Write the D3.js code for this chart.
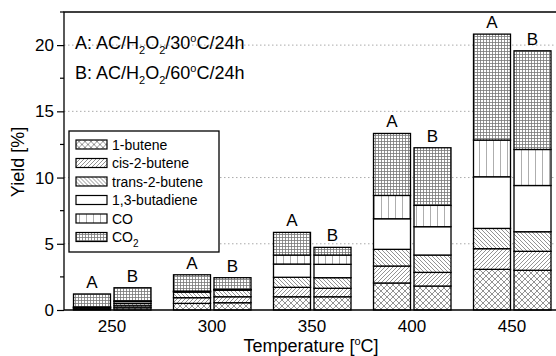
<!DOCTYPE html>
<html>
<head>
<meta charset="utf-8">
<script src="https://cdn.jsdelivr.net/npm/d3@7"></script>
<style>
  body { margin: 0; background: #fff; }
  svg { font-family: "Liberation Sans", Arial, sans-serif; }
</style>
</head>
<body>
<div id="chart"></div>
<script>
// temperatures and the two runs
const temps = [250, 300, 350, 400, 450]
const runs = ['A', 'B']
const species = ['1-butene', 'cis-2-butene', 'trans-2-butene', '1,3-butadiene', 'CO', 'CO2']

// yield [%], one row per species, one column per temperature
const yieldA = [
    [0.08, 0.50, 1.00, 2.04, 3.07],
    [0.06, 0.43, 0.71, 1.28, 1.56],
    [0.05, 0.42, 0.76, 1.26, 1.53],
    [0.02, 0.05, 1.00, 2.31, 3.90],
    [0.02, 0.03, 0.68, 1.76, 2.77],
    [0.98, 1.23, 1.71, 4.68, 8.00]
]
const yieldB = [
    [0.17, 0.55, 1.00, 1.81, 3.00],
    [0.15, 0.45, 0.64, 1.03, 1.43],
    [0.17, 0.50, 0.80, 1.31, 1.48],
    [0.15, 0.04, 1.01, 2.14, 3.49],
    [0.05, 0.02, 0.70, 1.61, 2.72],
    [0.99, 0.88, 0.58, 4.35, 7.45]
]
const yTicks = [0, 5, 10, 15, 20]
const yMinor = [2.5, 7.5, 12.5, 17.5, 22.5]

const width = 556, height = 356
const plotLeft = 64, plotRight = 556, plotTop = 12, plotBottom = 310

const x = d3.scaleLinear().domain([226, 472]).range([plotLeft, plotRight])
const y = d3.scaleLinear().domain([0, 22.5]).range([plotBottom, plotTop])
const barW = 18.5
const offset = { A: -19.25, B: 1 }

const rows = []
temps.forEach((t, i) => {
    runs.forEach(r => {
        const table = r === 'A' ? yieldA : yieldB
        const row = { temp: t, run: r }
        species.forEach((s, k) => row[s] = table[k][i])
        rows.push(row)
    })
})
const stacked = d3.stack().keys(species)(rows)

const svg = d3.select('#chart')
    .append('svg')
    .attr('width', width)
    .attr('height', height)

// hatch patterns
const defs = svg.append('defs')
function addPattern(id, size, d, stroke) {
    const p = defs.append('pattern')
        .attr('id', id)
        .attr('patternUnits', 'userSpaceOnUse')
        .attr('width', size)
        .attr('height', size)
    p.append('rect').attr('width', size).attr('height', size).attr('fill', '#fff')
    if (d) p.append('path').attr('d', d).attr('stroke', stroke || '#777').attr('stroke-width', 0.8).attr('fill', 'none')
}
addPattern('pat0', 6, 'M0,0L6,6M6,0L0,6')
addPattern('pat1', 4, 'M0,4L4,0M-1,1L1,-1M3,5L5,3')
addPattern('pat2', 4, 'M0,0L4,4M-1,3L1,5M3,-1L5,1')
addPattern('pat3', 4, null)
addPattern('pat4', 7, 'M3.5,0V7', '#999')
addPattern('pat5', 3, 'M0,0.5H3M0.5,0V3', '#777')

// dotted grid
svg.append('g')
    .selectAll('line')
    .data(yTicks.slice(1))
    .join('line')
    .attr('x1', plotLeft).attr('x2', plotRight)
    .attr('y1', d => y(d)).attr('y2', d => y(d))
    .attr('stroke', '#aaa')
    .attr('stroke-dasharray', '1.5,2.5')

// bars
svg.append('g')
    .selectAll('g')
    .data(stacked)
    .join('g')
    .attr('fill', (d, k) => `url(#pat${k})`)
    .selectAll('rect')
    .data(d => d)
    .join('rect')
    .attr('x', d => x(d.data.temp + offset[d.data.run]))
    .attr('width', x(barW) - x(0))
    .attr('y', d => y(d[1]))
    .attr('height', d => y(d[0]) - y(d[1]))
    .attr('stroke', '#000')
    .attr('stroke-width', 1.3)

// A / B labels
const tops = stacked[stacked.length - 1]
svg.append('g')
    .selectAll('text')
    .data(tops)
    .join('text')
    .attr('x', d => x(d.data.temp + offset[d.data.run] + barW / 2))
    .attr('y', d => y(d[1]) - 6)
    .attr('text-anchor', 'middle')
    .attr('font-size', 17)
    .text(d => d.data.run)

// frame
svg.append('path')
    .attr('d', `M${plotLeft},${plotBottom}V${plotTop}H${plotRight}M${plotLeft},${plotBottom}H${plotRight}`)
    .attr('stroke', '#000')
    .attr('stroke-width', 1.3)
    .attr('fill', 'none')

// y axis
const yAxis = d3.axisLeft(y).tickValues(yTicks).tickSize(7).tickPadding(3)
const gy = svg.append('g')
    .attr('transform', `translate(${plotLeft},0)`)
    .call(yAxis)
gy.select('.domain').remove()
gy.selectAll('text').attr('font-size', 17).attr('fill', '#000')
gy.attr('font-family', null)
gy.selectAll('line').attr('stroke-width', 1.2)
gy.selectAll('.minor')
    .data(yMinor)
    .join('line')
    .attr('class', 'minor')
    .attr('x1', -4).attr('x2', 0)
    .attr('y1', d => y(d)).attr('y2', d => y(d))
    .attr('stroke', '#000')
    .attr('stroke-width', 1.2)

// x tick labels
svg.append('g')
    .selectAll('text')
    .data(temps)
    .join('text')
    .attr('x', d => x(d))
    .attr('y', 332)
    .attr('text-anchor', 'middle')
    .attr('font-size', 17)
    .text(d => d)

// rich text helper: level 1 = subscript, -1 = superscript
function rich(sel, parts, small) {
    let cur = 0
    parts.forEach(([txt, level]) => {
        const shift = level === 1 ? 5 : level === -1 ? -7 : 0
        sel.append('tspan')
            .attr('dy', shift - cur)
            .attr('font-size', level ? small : null)
            .text(txt)
        cur = shift
    })
}

// axis titles
rich(svg.append('text')
    .attr('x', 311).attr('y', 352)
    .attr('text-anchor', 'middle')
    .attr('font-size', 18),
    [['Temperature [', 0], ['o', -1], ['C]', 0]], 11)

svg.append('text')
    .attr('transform', 'translate(24,162) rotate(-90)')
    .attr('text-anchor', 'middle')
    .attr('font-size', 18)
    .text('Yield [%]')

// run annotations
rich(svg.append('text').attr('x', 75).attr('y', 49).attr('font-size', 18),
    [['A: AC/H', 0], ['2', 1], ['O', 0], ['2', 1], ['/30', 0], ['o', -1], ['C/24h', 0]], 11)
rich(svg.append('text').attr('x', 75).attr('y', 79).attr('font-size', 18),
    [['B: AC/H', 0], ['2', 1], ['O', 0], ['2', 1], ['/60', 0], ['o', -1], ['C/24h', 0]], 11)

// legend
const legend = svg.append('g')
legend.append('rect')
    .attr('x', 69).attr('y', 131)
    .attr('width', 150).attr('height', 121)
    .attr('fill', '#fff')
    .attr('stroke', '#000')
    .attr('stroke-width', 1.3)
const items = legend.selectAll('g')
    .data(species)
    .join('g')
    .attr('transform', (d, k) => `translate(76,${144.5 + k * 18.5})`)
items.append('rect')
    .attr('x', 0).attr('y', -4.5)
    .attr('width', 31).attr('height', 9)
    .attr('fill', (d, k) => `url(#pat${k})`)
    .attr('stroke', '#000')
    .attr('stroke-width', 1.2)
items.each(function (d) {
    const t = d3.select(this).append('text')
        .attr('x', 36).attr('y', 5)
        .attr('font-size', 14)
    if (d === 'CO2') rich(t, [['CO', 0], ['2', 1]], 10)
    else t.text(d)
})
</script>
</body>
</html>
